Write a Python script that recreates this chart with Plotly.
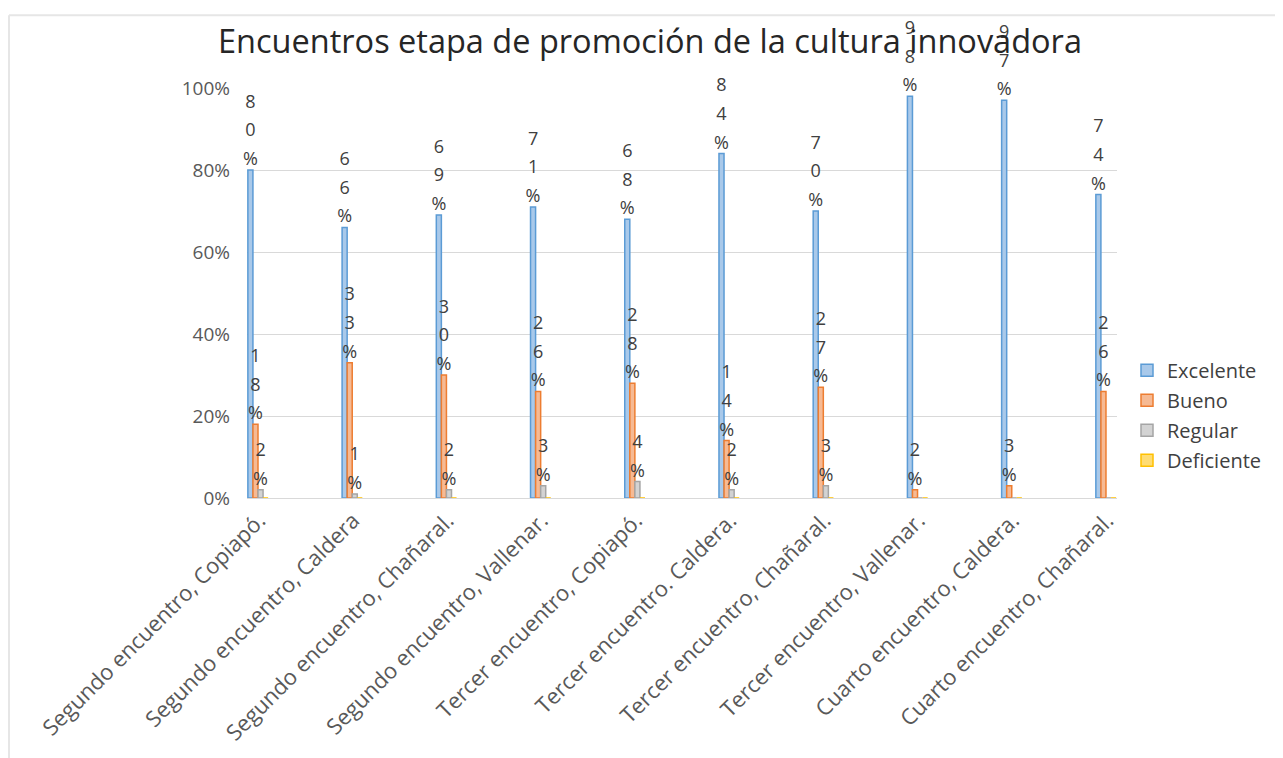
import plotly.graph_objects as go

categories = [
    "Segundo encuentro, Copiapó.",
    "Segundo encuentro, Caldera",
    "Segundo encuentro, Chañaral.",
    "Segundo encuentro, Vallenar.",
    "Tercer encuentro, Copiapó.",
    "Tercer encuentro. Caldera.",
    "Tercer encuentro, Chañaral.",
    "Tercer encuentro, Vallenar.",
    "Cuarto encuentro, Caldera.",
    "Cuarto encuentro, Chañaral.",
]
excelente = [80, 66, 69, 71, 68, 84, 70, 98, 97, 74]
bueno = [18, 33, 30, 26, 28, 14, 27, 2, 3, 26]
regular = [2, 1, 2, 3, 4, 2, 3, 0, 0, 0]
deficiente = [0, 0, 0, 0, 0, 0, 0, 0, 0, 0]

series = [
    ("Excelente", excelente, "#A9C9EA", "#5B9BD5"),
    ("Bueno", bueno, "#F6BA94", "#ED7D31"),
    ("Regular", regular, "#D3D3D3", "#A5A5A5"),
    ("Deficiente", deficiente, "#FFDC73", "#FFC000"),
]

FONT = "Open Sans"
OFF = 8  # page body margin
W, H = 1283 - OFF, 758 - OFF
# plot area in page pixels
L, R, T, B = 247, 1117, 88, 500


def vlabel(v):
    if v == 0:
        return ""
    return "<br>".join(f"<span style='font-size:18px'>{c}</span>" for c in f"{v}%")


fig = go.Figure()
for name, vals, fill, edge in series:
    fig.add_trace(go.Bar(
        name=name,
        legendgroup=name,
        x=categories,
        y=[v / 100 for v in vals],
        text=[vlabel(v) for v in vals],
        textposition="outside",
        textangle=0,
        constraintext="none",
        cliponaxis=False,
        textfont=dict(size=22, color="#404040", family=FONT),
        marker=dict(color=fill, line=dict(color=edge, width=1.5)),
        hoverinfo="skip",
    ))


def px(x):
    return (x - L) / (R - L)


def py(y):
    return (B - y) / (B - T)


fig.add_shape(type="line", xref="paper", yref="paper",
              x0=px(9), x1=px(1290), y0=py(15), y1=py(15),
              line=dict(color="#E6E6E6", width=2))
fig.add_shape(type="line", xref="paper", yref="paper",
              x0=px(9), x1=px(9), y0=py(15), y1=py(770),
              line=dict(color="#E6E6E6", width=2))

fig.update_layout(
    width=W, height=H,
    margin=dict(l=L - OFF, r=W - (R - OFF), t=T - OFF, b=H - (B - OFF)),
    paper_bgcolor="white", plot_bgcolor="white",
    barmode="group", bargap=0.785, bargroupgap=0,
    font=dict(family=FONT, color="#595959"),
    title=dict(text="Encuentros etapa de promoción de la cultura innovadora",
               x=(650 - OFF) / W, xanchor="center", y=1 - (42 - OFF) / H, yanchor="middle",
               font=dict(size=32.5, color="#262626", family=FONT)),
    showlegend=True,
    legend=dict(x=px(1127), y=py(352), xanchor="left", yanchor="top",
                font=dict(size=20, color="#404040"), itemwidth=30,
                tracegroupgap=1, bgcolor="rgba(0,0,0,0)"),
    xaxis=dict(range=[-0.1167, 9.117], tickangle=-45, showgrid=False,
               showline=True, linecolor="#D9D9D9", linewidth=1,
               ticks="", tickfont=dict(size=22, color="#595959"),
               ticklabelshift=1, fixedrange=True),
    yaxis=dict(range=[0, 1], dtick=0.2, tickformat=".0%", showgrid=True,
               gridcolor="#D9D9D9", gridwidth=1, zeroline=False,
               showline=False, ticks="", ticklabelstandoff=16,
               tickfont=dict(size=19, color="#595959"), fixedrange=True),
)

fig.write_html("out.html")
